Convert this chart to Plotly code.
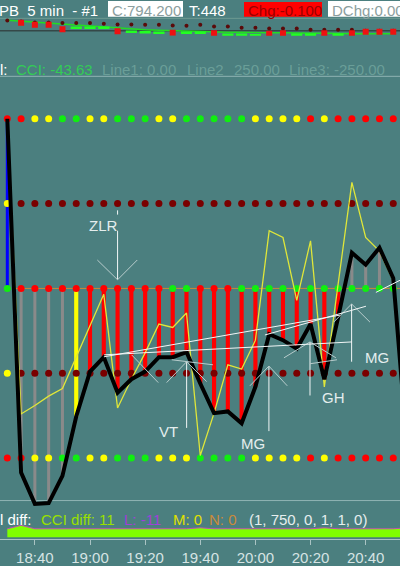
import plotly.graph_objects as go

W, H = 400, 566
BG = "#4b7f7f"
FONT = "Liberation Sans, Arial, sans-serif"

# ---------------- data ----------------
tick_bars = [2, 6, 10, 14, 18, 22, 26]
tick_labels = ["18:40", "19:00", "19:20", "19:40", "20:00", "20:20", "20:40"]

# Woodies CCI (thick black line + histogram)
cci = [200, -217, -254, -253, -221, -151, -98, -81, -123, -107,
       -98, -81, -81, -75, -112, -147, -145, -159, -116, -54,
       -61, -71, -42, -107, -34, 42, 28, 48, 12, -186]
# Turbo CCI (thin yellow line)
turbo_cci = [194, -148, -138, -127, -118, -81, -46, -7, -141, -107,
             -76, -42, -46, -29, -197, -147, -90, -95, -61, 68,
             60, -14, 56, -116, 5, 125, 60, 44, 9, -197]
# histogram colour kind per bar
hist_kind = (["B"] + ["S"] * 4 + ["Y"] + ["R"] * 19 + ["S"] * 5)

# dotted level rows
levels = [200, 100, 0, -100, -200]
row_p200 = list("RRYYGGYYGGGYYGGGGGYYYYRYRRRRR")
row_p100 = list("YDDDDDDDDDDDDDDDDDDDDDDDDDDDD")
row_zero = list("GRRRRRRRRRRRGGRRRGGGGGGGGGGGG")
row_m100 = list("YDDDDDDDDDDDDDDDDDDDDDDDDDDDD")
row_m200 = list("RRYYGGYYGGGYYYGGGGYYYYRYRRRRR")

# mini price strip (top)
mini_dots = [15.3, 14.3, 13.3, 13.3, 12.7, 12.7, 12.7, 12.0, 11.3, 11.3,
             11.0, 11.0, 10.3, 10.0, 11.0, 9.3, 9.3, 8.0, 8.0, 7.3,
             7.3, 7.3, 6.0, 6.0, 6.0, 6.0, 5.0, 5.0, 5.0]
mini_line = [15.5, 14.5, 13.5, 12.5, 11.5, 10.5, 9.5, 8.5, 7.5, 6.5,
             6.0, 5.5, 5.0, 4.5, 4.0, 4.0, 3.5, 3.5, 3.0, 3.0,
             3.0, 2.5, 2.5, 2.5, 2.0, 2.0, 2.0, 2.0, 2.0]
mini_marks = [None, 13.0, 11.0, 11.0, 6.5, 8.0, 8.0, 8.0, 4.5, 4.0,
              3.5, 3.0, 3.0, 3.0, 3.0, 2.5, 1.0, 1.0, 0.5, 2.0,
              2.5, 1.0, 1.0, 2.5, 1.0, 2.5, 4.0, 4.0, 4.0]
mini_kind = list("-RRRRGGGRGGGRGGRGGGRRGGRGRRRR")

# CCI diff strip (bottom)
diff_top = [10.5, 14.0, 10.5, 10.5, 10.5, 10.5, 10.5, 10.5, 10.5, 10.5,
            10.5, 10.5, 10.5, 10.5, 11.5, 10.5, 10.5, 10.5, 10.5, 10.5,
            10.5, 10.5, 10.5, 11.5, 10.5, 10.5, 10.5, 10.5, 10.5, 11.5]
diff_bottom = [2.0] * 30

# ---------------- styling ----------------
DOT = {"R": "#ff0000", "G": "#10ee10", "Y": "#ffff00", "D": "#7a0000"}
HIST = {"B": "#0000ff", "S": "#8a8a8a", "Y": "#ffff00", "R": "#ff0000"}
HIST_W = {"B": 0.22, "S": 0.22, "Y": 0.3, "R": 0.3}


def pyp(p):
    return 1 - p / H


def pxp(p):
    return p / W


idx = list(range(len(cci)))
fig = go.Figure()

# histogram stems
fig.add_trace(go.Bar(
    x=idx, y=cci, base=0,
    width=[HIST_W[k] for k in hist_kind],
    marker=dict(color=[HIST[k] for k in hist_kind], line=dict(width=0)),
    yaxis="y", hoverinfo="skip"))

# dotted level rows
for lev, row in zip(levels, [row_p200, row_p100, row_zero, row_m100, row_m200]):
    fig.add_trace(go.Scatter(
        x=idx[:len(row)], y=[lev] * len(row), mode="markers",
        marker=dict(size=7, color=[DOT[c] for c in row], line=dict(width=0)),
        yaxis="y", hoverinfo="skip"))

# turbo CCI and CCI lines
fig.add_trace(go.Scatter(x=idx, y=turbo_cci, mode="lines",
                         line=dict(color="#dfe63a", width=1.3),
                         yaxis="y", hoverinfo="skip"))
fig.add_trace(go.Scatter(x=idx, y=cci, mode="lines",
                         line=dict(color="#000000", width=4),
                         yaxis="y", hoverinfo="skip"))

# mini price strip
fig.add_trace(go.Scatter(x=idx[:len(mini_line)], y=mini_line, mode="lines",
                         line=dict(color="#22dd22", width=1.5),
                         yaxis="y3", hoverinfo="skip"))
fig.add_trace(go.Scatter(x=idx[:len(mini_dots)], y=mini_dots, mode="markers",
                         marker=dict(size=4, color="#5a0a0a"),
                         yaxis="y3", hoverinfo="skip"))
mk_x = [i for i, k in enumerate(mini_kind) if k == "R"]
fig.add_trace(go.Scatter(x=mk_x, y=[mini_marks[i] for i in mk_x], mode="markers",
                         marker=dict(size=6, symbol="square", color="#ee1111"),
                         yaxis="y3", hoverinfo="skip"))
mk_g = [i for i, k in enumerate(mini_kind) if k == "G"]
fig.add_trace(go.Scatter(x=mk_g, y=[mini_marks[i] for i in mk_g], mode="markers",
                         marker=dict(size=8, symbol="line-ew",
                                     line=dict(color="#22ff22", width=2.5)),
                         yaxis="y3", hoverinfo="skip"))

# CCI diff strip
fig.add_trace(go.Scatter(x=idx, y=diff_bottom, mode="lines",
                         line=dict(color="#80ff00", width=0),
                         yaxis="y2", hoverinfo="skip"))
fig.add_trace(go.Scatter(x=idx, y=diff_top, mode="lines", fill="tonexty",
                         fillcolor="#80ff00",
                         line=dict(color="#c050b0", width=1, shape="linear"),
                         yaxis="y2", hoverinfo="skip"))

shapes = []
# frame / separator lines
for p, col, w in [(18.5, "#6e9a92", 1), (31, "#354848", 1.5), (77, "#8fb3b3", 1),
                  (505, "#8fb3b3", 1)]:
    shapes.append(dict(type="line", xref="paper", yref="paper", x0=0, x1=1,
                       y0=pyp(p), y1=pyp(p), line=dict(color=col, width=w),
                       layer="below"))
# thin orange zero line
shapes.append(dict(type="line", xref="paper", yref="y", x0=pxp(14), x1=1,
                   y0=0, y1=0, line=dict(color="#c98a3a", width=1), layer="below"))

# header boxes
for x0, x1, y0, y1, col in [(108, 183, 1, 17, "#ffffff"), (244, 322, 2, 17, "#ff0000"),
                            (328, 402, 1, 17, "#ffffff")]:
    shapes.append(dict(type="rect", xref="paper", yref="paper",
                       x0=pxp(x0), x1=pxp(x1), y0=pyp(y1), y1=pyp(y0),
                       fillcolor=col, line=dict(width=0), layer="below"))

# callout geometry (bar index, CCI value)
WHITE = "#f2f6f6"
GREYW = "#b8cccc"
segments = [
    # ZLR
    ((8.0, 92), (8.0, 87), WHITE),
    ((8.0, 68), (8.0, 10.5), WHITE),
    ((6.53, 33.5), (8.0, 10.2), GREYW), ((8.0, 10.2), (9.43, 33.5), GREYW),
    # VT
    ((13.01, -86.4), (13.01, -164.4), WHITE),
    ((11.56, -111), (13.01, -86.4), GREYW), ((13.01, -86.4), (14.46, -109.8), GREYW),
    # MG lower
    ((18.98, -91.5), (18.98, -168.2), WHITE),
    ((17.6, -114.8), (18.98, -91.5), GREYW), ((18.98, -91.5), (20.31, -114.8), GREYW),
    # GH
    ((21.96, -63.1), (21.96, -126.2), WHITE),
    ((20.07, -81.8), (21.96, -63.1), GREYW), ((21.96, -63.1), (23.84, -81.8), GREYW),
    # MG upper
    ((24.98, -18.3), (24.98, -86.4), WHITE),
    ((23.68, -39.7), (24.98, -18.3), GREYW), ((24.98, -18.3), (26.31, -39.7), GREYW),
    # trend lines
    ((7.01, -78.3), (24.99, -63.1), WHITE),
    ((7.01, -80.6), (24.13, -31.5), WHITE),
    ((18.69, -54.9), (26.02, -21.0), WHITE),
    ((26.74, -4.7), (28.6, 10.5), WHITE),
    ((9.02, -78.3), (10.95, -111), GREYW),
    ((11.93, -84.1), (14.92, -90), GREYW),
    ((21.96, -88.8), (23.92, -84.1), GREYW),
]
for (xa, ya), (xb, yb), col in segments:
    shapes.append(dict(type="line", xref="x", yref="y", x0=xa, y0=ya, x1=xb, y1=yb,
                       line=dict(color=col, width=1), layer="above"))

annotations = []


def txt(text, x, y, color, size=15, xref="paper", yref="paper", xanchor="left"):
    annotations.append(dict(text=text, x=x, y=y, xref=xref, yref=yref,
                            xanchor=xanchor, yanchor="middle", showarrow=False,
                            font=dict(family=FONT, size=size, color=color)))


# header
txt("PB  5 min  - #1", pxp(-3), pyp(10.5), "#ffffff")
txt("C:794.200", pxp(110), pyp(10.5), "#8b9e9e")
txt("T:448", pxp(187), pyp(10.5), "#ffffff")
txt("Chg:-0.100", pxp(246), pyp(10.5), "#9a0000")
txt("DChg:0.00", pxp(330), pyp(10.5), "#8b9e9e")
# CCI legend line
txt("l:", pxp(-2), pyp(70), "#ffffff")
txt("CCI: -43.63", pxp(14), pyp(70), "#33cc55")
txt("Line1: 0.00", pxp(100), pyp(70), "#6a9e98")
txt("Line2", pxp(185), pyp(70), "#6a9e98")
txt("250.00", pxp(232), pyp(70), "#6a9e98")
txt("Line3: -250.00", pxp(287), pyp(70), "#6a9e98")
# diff legend line
txt("l diff:", pxp(-2), pyp(524), "#ffffff")
txt("CCI diff: 11", pxp(39), pyp(524), "#99e000")
txt("L: -11", pxp(122), pyp(524), "#a040d8")
txt("M: 0", pxp(171), pyp(524), "#e0e000")
txt("N: 0", pxp(207), pyp(524), "#c98a3a")
txt("(1, 750, 0, 1, 1, 0)", pxp(247), pyp(524), "#e6eeee")
# callout labels
for label, xi, yv in [("ZLR", 6.95, 74), ("VT", 11.69, -169), ("MG", 17.82, -183),
                      ("GH", 23.7, -128), ("MG", 26.82, -81.4)]:
    txt(label, xi, yv, "#e4eeee", xref="x", yref="y", xanchor="center")

fig.update_layout(
    width=W, height=H,
    margin=dict(l=0, r=0, t=0, b=0, pad=0),
    paper_bgcolor=BG, plot_bgcolor=BG,
    showlegend=False, barmode="overlay",
    font=dict(family=FONT),
    xaxis=dict(domain=[0, 1], range=[-0.53, 28.49], anchor="free", position=pyp(544),
               showline=True, linecolor="#a9c3c3", linewidth=1,
               ticks="outside", ticklen=5, tickcolor="#a9c3c3",
               tickvals=tick_bars, ticktext=tick_labels,
               tickfont=dict(family=FONT, size=15, color="#d6e4e4"),
               showgrid=False, zeroline=False, fixedrange=True),
    yaxis=dict(domain=[pyp(512), pyp(77)], range=[-258.2, 250], visible=False,
               showgrid=False, zeroline=False),
    yaxis2=dict(domain=[pyp(544), pyp(528)], range=[0, 16], visible=False,
                showgrid=False, zeroline=False),
    yaxis3=dict(domain=[pyp(36), pyp(17)], range=[0, 19], visible=False,
                showgrid=False, zeroline=False),
    shapes=shapes, annotations=annotations,
)

fig.write_html("out.html", config={"displayModeBar": False},
               post_script="document.body.style.margin='0';"
                           "document.body.style.padding='0';"
                           "document.body.style.overflow='hidden';")
